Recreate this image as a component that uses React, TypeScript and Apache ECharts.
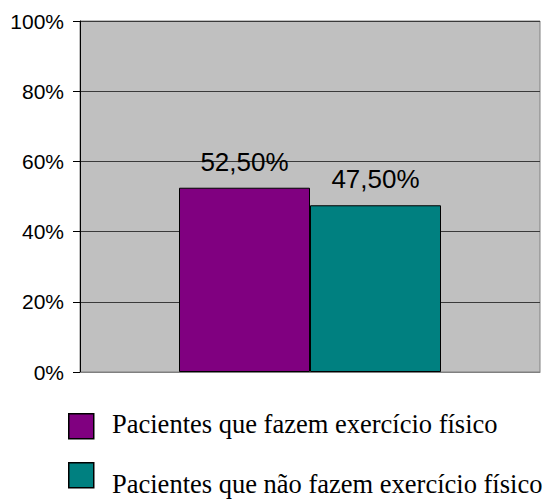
import React, { useEffect, useRef } from "react";
import * as echarts from "echarts";

const categories = [""];
const seriesNames = [
  "Pacientes que fazem exercício físico",
  "Pacientes que não fazem exercício físico",
];
const seriesColors = ["#800080", "#008080"];
const exerciseValues = [0.525];
const noExerciseValues = [0.475];
const valueLabels = ["52,50%", "47,50%"];
const yTicks = [0, 0.2, 0.4, 0.6, 0.8, 1];

export default function App() {
  const ref = useRef<HTMLDivElement>(null);
  useEffect(() => {
    if (!ref.current) return;
    const chart = echarts.init(ref.current, null, { renderer: "svg" });
    const sans = "Liberation Sans";
    const serif = "Liberation Serif";
    const labelCommon = {
      show: true,
      position: "top",
      distance: 13,
      fontFamily: sans,
      fontSize: 26,
      color: "#000",
    };
    const legendItems = [
      { boxTop: 413, textTop: 410 },
      { boxTop: 462, textTop: 470 },
    ];
    const graphic: any[] = [];
    legendItems.forEach((it, i) => {
      graphic.push({
        type: "rect",
        left: 68,
        top: it.boxTop,
        shape: { width: 25, height: 25 },
        style: { fill: seriesColors[i], stroke: "#000", lineWidth: 1.5 },
      });
      graphic.push({
        type: "text",
        left: 112,
        top: it.textTop,
        style: {
          text: seriesNames[i],
          fontFamily: serif,
          fontSize: 26.5,
          fill: "#000",
        },
      });
    });
    chart.setOption({
      animation: false,
      grid: {
        left: 80,
        right: 4,
        top: 21,
        bottom: 127,
        show: true,
        backgroundColor: "#C0C0C0",
        borderColor: "#808080",
        borderWidth: 1,
      },
      graphic,
      xAxis: {
        type: "category",
        data: categories,
        axisLine: { lineStyle: { color: "#808080" } },
        axisTick: { show: false },
        axisLabel: { show: false },
      },
      yAxis: {
        type: "value",
        min: yTicks[0],
        max: yTicks[yTicks.length - 1],
        interval: 0.2,
        axisLine: { show: true, lineStyle: { color: "#000" } },
        axisTick: { show: true, length: 7, lineStyle: { color: "#000" } },
        axisLabel: {
          formatter: (v: number) => Math.round(v * 100) + "%",
          fontFamily: sans,
          fontSize: 21,
          color: "#000",
          margin: 16,
        },
        splitLine: { lineStyle: { color: "#3a3a3a", width: 1 } },
      },
      series: [
        {
          name: seriesNames[0],
          type: "bar",
          data: exerciseValues,
          barWidth: 131,
          barGap: "0%",
          itemStyle: { color: seriesColors[0], borderColor: "#000", borderWidth: 1 },
          label: { ...labelCommon, formatter: () => valueLabels[0] },
        },
        {
          name: seriesNames[1],
          type: "bar",
          data: noExerciseValues,
          barWidth: 131,
          barGap: "0%",
          itemStyle: { color: seriesColors[1], borderColor: "#000", borderWidth: 1 },
          label: { ...labelCommon, formatter: () => valueLabels[1] },
        },
      ],
    });
    return () => chart.dispose();
  }, []);
  return <div ref={ref} style={{ width: 544, height: 499, position: "absolute", left: 0, top: 0 }} />;
}
